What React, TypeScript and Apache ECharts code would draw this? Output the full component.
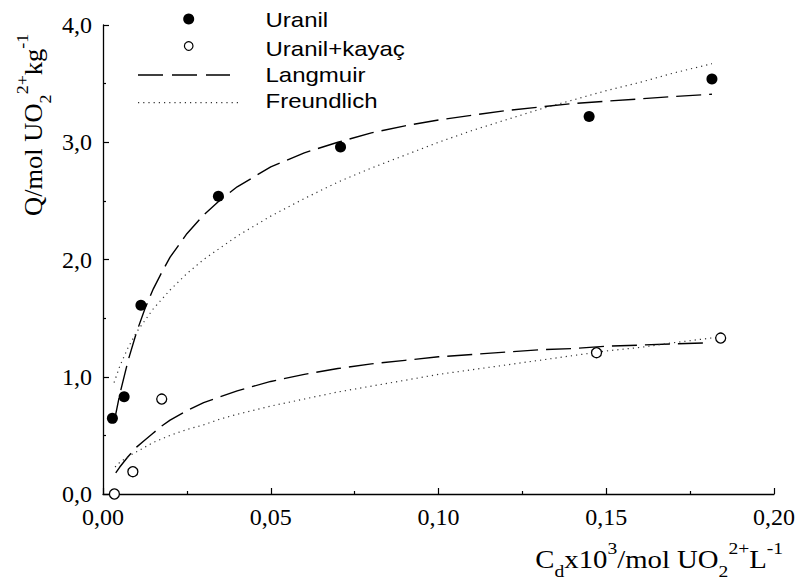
import React, { useEffect, useRef } from "react";
import * as echarts from "echarts";

// Measured points
const uranilC = [0.0028, 0.0063, 0.0113, 0.0344, 0.0708, 0.1449, 0.1815];
const uranilQ = [0.645, 0.83, 1.61, 2.54, 2.96, 3.22, 3.54];
const kayacC = [0.0034, 0.0089, 0.0175, 0.1471, 0.1841];
const kayacQ = [0.0, 0.19, 0.81, 1.205, 1.33];

// Fitted curves
const langmuirUranilC = [0.0033, 0.005, 0.0075, 0.01, 0.0125, 0.015, 0.0175, 0.02, 0.025, 0.03, 0.035, 0.04, 0.05, 0.06, 0.07, 0.08, 0.09, 0.1, 0.11, 0.12, 0.13, 0.14, 0.15, 0.16, 0.17, 0.1815];
const langmuirUranilQ = [0.61, 0.85, 1.14, 1.38, 1.58, 1.75, 1.89, 2.02, 2.22, 2.38, 2.51, 2.62, 2.79, 2.91, 3.0, 3.08, 3.14, 3.19, 3.23, 3.27, 3.3, 3.33, 3.35, 3.37, 3.39, 3.41];

const freundlichUranilC = [0.0033, 0.005, 0.0075, 0.01, 0.0125, 0.015, 0.0175, 0.02, 0.025, 0.03, 0.035, 0.04, 0.05, 0.06, 0.07, 0.08, 0.09, 0.1, 0.11, 0.12, 0.13, 0.14, 0.15, 0.16, 0.17, 0.1815];
const freundlichUranilQ = [0.95, 1.09, 1.25, 1.38, 1.48, 1.58, 1.66, 1.74, 1.88, 2.0, 2.1, 2.2, 2.37, 2.52, 2.66, 2.78, 2.89, 3.0, 3.1, 3.19, 3.28, 3.36, 3.44, 3.51, 3.59, 3.67];

const langmuirKayacC = [0.0038, 0.005, 0.0075, 0.01, 0.0125, 0.015, 0.0175, 0.02, 0.025, 0.03, 0.035, 0.04, 0.05, 0.06, 0.07, 0.08, 0.09, 0.1, 0.11, 0.12, 0.13, 0.14, 0.15, 0.16, 0.17, 0.181];
const langmuirKayacQ = [0.18, 0.23, 0.32, 0.4, 0.46, 0.52, 0.58, 0.63, 0.71, 0.78, 0.83, 0.88, 0.96, 1.02, 1.07, 1.11, 1.14, 1.17, 1.19, 1.21, 1.23, 1.24, 1.26, 1.27, 1.28, 1.29];

const freundlichKayacC = [0.0036, 0.005, 0.0075, 0.01, 0.0125, 0.015, 0.0175, 0.02, 0.025, 0.03, 0.035, 0.04, 0.05, 0.06, 0.07, 0.08, 0.09, 0.1, 0.11, 0.12, 0.13, 0.14, 0.15, 0.16, 0.17, 0.184];
const freundlichKayacQ = [0.23, 0.27, 0.32, 0.36, 0.4, 0.44, 0.47, 0.5, 0.55, 0.59, 0.64, 0.68, 0.75, 0.81, 0.87, 0.92, 0.97, 1.02, 1.06, 1.1, 1.14, 1.18, 1.22, 1.25, 1.29, 1.34];

const legendLabels = ["Uranil", "Uranil+kayaç", "Langmuir", "Freundlich"];
const xTitle = "{m|C}{sub|d}{m|x10}{sup|3}{m|/mol UO}{sub|2}{sup|2+}{m|L}{sup|-1}";
const yTitle = "{m|Q/mol UO}{sub|2}{sup|2+}{m|kg}{sup|-1}";

const SERIF = "'Liberation Serif', 'Times New Roman', serif";
const SANS = "'Liberation Sans', Arial, sans-serif";

const zip = (a: number[], b: number[]) => a.map((v, i) => [v, b[i]]);

const richTitle = {
  m: { fontSize: 25, fontFamily: SERIF, fill: "#000", lineHeight: 40, verticalAlign: "middle" },
  sup: { fontSize: 17, fontFamily: SERIF, fill: "#000", lineHeight: 17, verticalAlign: "top" },
  sub: { fontSize: 17, fontFamily: SERIF, fill: "#000", lineHeight: 17, verticalAlign: "bottom" },
};

export default function App() {
  const ref = useRef<HTMLDivElement>(null);
  useEffect(() => {
    if (!ref.current) return;
    const chart = echarts.init(ref.current, null, { renderer: "svg" });
    const dashed = { color: "#000", width: 1.4, type: [25, 8] as number[] };
    const dotted = { color: "#333", width: 1.2, type: [1.2, 4] as number[] };
    const axisCommon = {
      type: "value" as const,
      axisLine: { show: true, lineStyle: { color: "#000", width: 1.3 } },
      axisTick: { show: true, inside: true, length: 6, lineStyle: { color: "#000", width: 1.2 } },
      minorTick: { show: true, splitNumber: 2, length: 3, lineStyle: { color: "#000", width: 1.2 } },
      splitLine: { show: false },
      minorSplitLine: { show: false },
    };
    chart.setOption({
      animation: false,
      backgroundColor: "#fff",
      grid: { left: 103, right: 24, top: 25, bottom: 85, containLabel: false, outerBoundsMode: "none" },
      xAxis: {
        ...axisCommon,
        min: 0,
        max: 0.2,
        interval: 0.05,
        axisLabel: {
          color: "#000",
          fontFamily: SERIF,
          fontSize: 24,
          margin: 11,
          formatter: (v: number) => v.toFixed(2).replace(".", ","),
        },
      },
      yAxis: {
        ...axisCommon,
        min: 0,
        max: 4,
        interval: 1,
        axisLabel: {
          color: "#000",
          fontFamily: SERIF,
          fontSize: 24,
          margin: 11,
          formatter: (v: number) => v.toFixed(1).replace(".", ","),
        },
      },
      series: [
        { name: "Langmuir U", type: "line", data: zip(langmuirUranilC, langmuirUranilQ), showSymbol: false, lineStyle: dashed, z: 2 },
        { name: "Freundlich U", type: "line", data: zip(freundlichUranilC, freundlichUranilQ), showSymbol: false, lineStyle: dotted, z: 2 },
        { name: "Langmuir K", type: "line", data: zip(langmuirKayacC, langmuirKayacQ), showSymbol: false, lineStyle: dashed, z: 2 },
        { name: "Freundlich K", type: "line", data: zip(freundlichKayacC, freundlichKayacQ), showSymbol: false, lineStyle: dotted, z: 2 },
        { name: legendLabels[0], type: "scatter", data: zip(uranilC, uranilQ), symbol: "circle", symbolSize: 11, itemStyle: { color: "#000", opacity: 1 }, z: 5 },
        { name: legendLabels[1], type: "scatter", data: zip(kayacC, kayacQ), symbol: "circle", symbolSize: 10, itemStyle: { color: "#fff", borderColor: "#000", borderWidth: 1.3, opacity: 1 }, z: 5 },
      ],
      graphic: [
        { type: "circle", shape: { cx: 188.7, cy: 19, r: 5.5 }, style: { fill: "#000" }, silent: true },
        { type: "circle", shape: { cx: 188.7, cy: 46, r: 4.3 }, style: { fill: "#fff", stroke: "#000", lineWidth: 1.2 }, silent: true },
        { type: "line", shape: { x1: 138, y1: 75, x2: 230, y2: 75 }, style: { stroke: "#000", lineWidth: 1.4, lineDash: [25, 9] }, silent: true },
        { type: "line", shape: { x1: 138, y1: 102.7, x2: 240, y2: 102.7 }, style: { stroke: "#333", lineWidth: 1.2, lineDash: [1.2, 4] }, silent: true },
        ...legendLabels.map((t, i) => ({
          type: "text",
          x: 265.5,
          y: [20, 49, 75, 101.7][i],
          scaleX: 1.2,
          silent: true,
          style: { text: t, fontSize: 20, fontFamily: SANS, fill: "#000", align: "left", verticalAlign: "middle" },
        })),
        {
          type: "text",
          x: 783,
          y: 559.6,
          scaleX: 1.15,
          silent: true,
          style: { text: xTitle, rich: richTitle, align: "right", verticalAlign: "middle", fontSize: 25, fontFamily: SERIF, fill: "#000" },
        },
        {
          type: "text",
          x: 33.6,
          y: 216,
          rotation: Math.PI / 2,
          scaleX: 1.06,
          silent: true,
          style: { text: yTitle, rich: richTitle, align: "left", verticalAlign: "middle", fontSize: 25, fontFamily: SERIF, fill: "#000" },
        },
      ],
    });
    return () => chart.dispose();
  }, []);
  return <div ref={ref} style={{ position: "fixed", left: 0, top: 0, width: 798, height: 579 }} />;
}
